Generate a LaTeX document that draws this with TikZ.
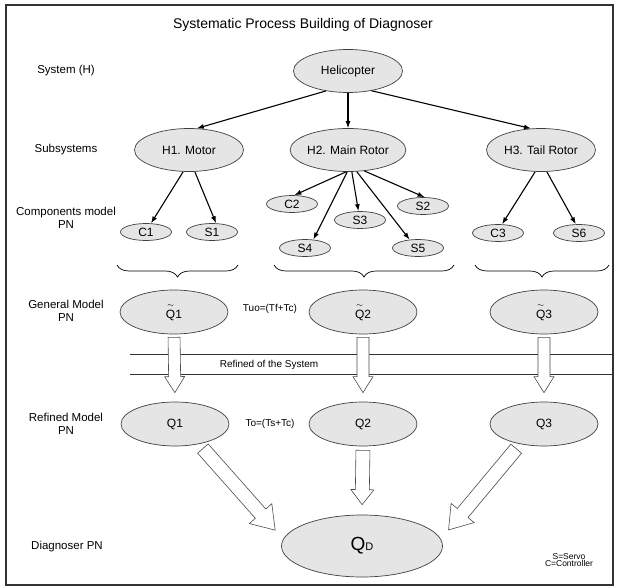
\documentclass[tikz,border=0pt]{standalone}
\usepackage{fontspec}
\usepackage{amsmath}
\setmainfont{Liberation Sans}
\usetikzlibrary{shapes.geometric,arrows.meta,calc,decorations.pathreplacing}

% fat open arrow: from, to, shaft half width, head half width, head length
\newcommand{\fatarrow}[5]{%
  \coordinate (fa-hb) at ($(#2)!#5!(#1)$);
  \draw[hollow] ($(#1)!#3!90:(#2)$) -- ($(fa-hb)!#3!-90:(#1)$) -- ($(fa-hb)!#4!-90:(#1)$)
    -- (#2) -- ($(fa-hb)!#4!90:(#1)$) -- ($(fa-hb)!#3!90:(#1)$) -- ($(#1)!#3!-90:(#2)$) -- cycle;}
\newcommand{\tq}{$\overset{\sim}{\mbox{Q}}$}

\begin{document}
\begin{tikzpicture}[x=1pt,y=-1pt,
  blob/.style={ellipse,draw=black!75,fill=black!10,inner sep=0pt,line width=0.7pt,font=\fontsize{12}{14}\selectfont},
  sub/.style={blob,minimum width=109pt,minimum height=43pt},
  comp/.style={blob,minimum width=51pt,minimum height=17pt},
  model/.style={blob,minimum width=108pt,minimum height=44pt},
  rowlab/.style={align=center,font=\fontsize{11.5}{13}\selectfont},
  small/.style={font=\fontsize{10}{12}\selectfont},
  link/.style={line width=1.1pt,-{Latex[length=7pt,width=5pt]}},
  hollow/.style={draw=black!70,fill=white,line width=0.6pt},
  brace/.style={decorate,decoration={brace,amplitude=12pt},line width=0.7pt}]
\useasboundingbox (0,0) rectangle (618,588);
\draw[line width=1.2pt,black!80] (6,5) rectangle (613,585);

% Title and row labels
\node (title) at (303,25) {\fontsize{14}{16}\selectfont Systematic Process Building of Diagnoser};
\node[rowlab] (lsys) at (66,71) {System (H)};
\node[rowlab] (lsub) at (66,150) {Subsystems};
\node[rowlab] (lcomp) at (66,218) {Components model\\PN};
\node[rowlab] (lgen) at (66,311) {General Model\\PN};
\node[rowlab] (lref) at (66,424) {Refined Model\\PN};
\node[rowlab] (ldiag) at (67,547) {Diagnoser PN};

% Tree
\node[sub] (heli) at (348,71) {Helicopter};
\node[sub] (h1) at (189,150) {H1. Motor};
\node[sub] (h2) at (348,150) {H2. Main Rotor};
\node[sub] (h3) at (541,150) {H3. Tail Rotor};
\draw[link] (heli.222) -- (h1.70);
\draw[link] (heli.south) -- (h2.north);
\draw[link] (heli.-40) -- (h3.115);

\node[comp] (c1) at (146,232) {C1};
\node[comp] (s1) at (212,232) {S1};
\node[comp] (c2) at (292,204) {C2};
\node[comp] (s3) at (360,220) {S3};
\node[comp] (s2) at (423,206) {S2};
\node[comp] (s4) at (305,248) {S4};
\node[comp] (s5) at (418,248) {S5};
\node[comp] (c3) at (498,233) {C3};
\node[comp] (s6) at (579,233) {S6};
\draw[link] (h1.-105) -- (c1.60);
\draw[link] (h1.-75) -- (s1.65);
\draw[link] (h2.-95) -- (c2.75);
\draw[link] (h2.-92) -- (s4.45);
\draw[link] (h2.-80) -- (s3.100);
\draw[link] (h2.-68) -- (s5.135);
\draw[link] (h2.-52) -- (s2.80);
\draw[link] (h3.-105) -- (c3.65);
\draw[link] (h3.-75) -- (s6.110);

% Braces
\draw[brace] (238,265) -- (117,265);
\draw[brace] (454,265) -- (274,265);
\draw[brace] (609,265) -- (475,265);

% General and refined models
\node[model] (gq1) at (174,312) {\tq1};
\node[model] (gq2) at (363,312) {\tq2};
\node[model] (gq3) at (544,312) {\tq3};
\node[small] (tuo) at (270,309) {Tuo=(Tf+Tc)};

\draw[line width=0.7pt,black!80] (130,354) -- (613,354);
\draw[line width=0.7pt,black!80] (130,374) -- (613,374);
\node[small] (refsys) at (269,365) {Refined of the System};

\node[model] (q1) at (175,424) {Q1};
\node[model] (q2) at (363,424) {Q2};
\node[model] (q3) at (544,424) {Q3};
\node[small] (to) at (270,424) {To=(Ts+Tc)};

% Diagnoser
\node[blob,minimum width=161pt,minimum height=62pt] (qd) at (362,546)
  {{\fontsize{19}{19}\selectfont Q}{\fontsize{11}{11}\selectfont D}};
\node[align=center,font=\fontsize{8.5}{7.5}\selectfont] (key) at (569,560) {S=Servo\\C=Controller};

% Fat arrows
\coordinate (d1a) at ($(gq1.south)!3pt!(q1.north)$);
\coordinate (d1b) at ($(q1.north)!9pt!(gq1.south)$);
\coordinate (d2a) at ($(gq2.south)!3pt!(q2.north)$);
\coordinate (d2b) at ($(q2.north)!9pt!(gq2.south)$);
\coordinate (d3a) at ($(gq3.south)!3pt!(q3.north)$);
\coordinate (d3b) at ($(q3.north)!9pt!(gq3.south)$);
\fatarrow{d1a}{d1b}{6pt}{10pt}{16pt}
\fatarrow{d2a}{d2b}{6pt}{10pt}{16pt}
\fatarrow{d3a}{d3b}{6pt}{10pt}{16pt}

\coordinate (e1a) at ($(q1.-40)!6pt!(qd.175)$);
\coordinate (e1b) at ($(qd.175)!12pt!(q1.-40)$);
\coordinate (e2a) at ($(q2.south)!4pt!(qd.north)$);
\coordinate (e2b) at ($(qd.north)!10pt!(q2.south)$);
\coordinate (e3a) at ($(q3.-140)!6pt!(qd.5)$);
\coordinate (e3b) at ($(qd.5)!12pt!(q3.-140)$);
\fatarrow{e1a}{e1b}{7pt}{15pt}{22pt}
\fatarrow{e2a}{e2b}{7pt}{11.5pt}{15pt}
\fatarrow{e3a}{e3b}{7pt}{15pt}{22pt}
\end{tikzpicture}
\end{document}
